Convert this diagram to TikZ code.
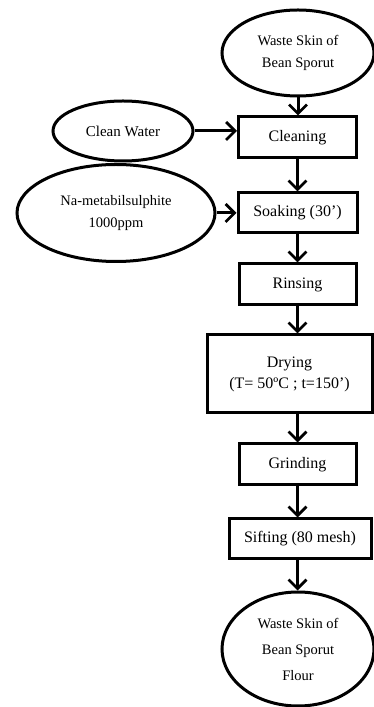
\documentclass[tikz,border=0pt]{standalone}
\usepackage{fontspec}
\setmainfont{Liberation Serif}
\usetikzlibrary{shapes.geometric,arrows.meta}
\begin{document}
\begin{tikzpicture}[x=1pt,y=1pt,
  box/.style={draw,line width=3pt,rectangle,inner sep=0pt,font=\fontsize{16}{20}\selectfont,align=center},
  oval/.style={draw,line width=3pt,ellipse,inner sep=0pt,align=center},
  flow/.style={line width=3pt,-{Straight Barb[length=9pt,width=18pt,line width=2.8pt]}}]
\useasboundingbox (0,0) rectangle (374,707);
% ellipses
\node[oval,minimum width=152,minimum height=86,font=\fontsize{14.5}{22}\selectfont] (top) at (298,654) {Waste Skin of\\Bean Sporut};
\node[oval,minimum width=140,minimum height=60,font=\fontsize{15}{18}\selectfont] (water) at (123,576) {Clean Water};
\node[oval,minimum width=198,minimum height=97,font=\fontsize{14.5}{22}\selectfont] (na) at (116,494) {Na-metabilsulphite\\1000ppm};
\node[oval,minimum width=152,minimum height=114,font=\fontsize{14.5}{26}\selectfont] (flour) at (298,58) {Waste Skin of\\Bean Sporut\\Flour};
% boxes
\node[box,minimum width=118,minimum height=41] (clean) at (297.5,569.5) {Cleaning};
\node[box,minimum width=119,minimum height=40] (soak) at (297.5,494) {Soaking (30’)};
\node[box,minimum width=117,minimum height=41] (rinse) at (297.5,422.5) {Rinsing};
\node[box,minimum width=165,minimum height=78,font=\fontsize{16}{21}\selectfont] (dry) at (289.5,333) {Drying\\(T= 50ºC ; t=150’)};
\node[box,minimum width=117,minimum height=41] (grind) at (297.5,242.5) {Grinding};
\node[box,minimum width=142,minimum height=40] (sift) at (300,168) {Sifting (80 mesh)};
% connectors
\draw[flow] (top.south) -- (top.south |- clean.north);
\draw[flow] (water.east) -- (water.east -| clean.west);
\draw[flow] (na.east) -- (na.east -| soak.west);
\draw[flow] (clean.south) -- (clean.south |- soak.north);
\draw[flow] (soak.south) -- (soak.south |- rinse.north);
\draw[flow] (rinse.south) -- (rinse.south |- dry.north);
\draw[flow] (rinse.south |- dry.south) -- (rinse.south |- grind.north);
\draw[flow] (grind.south) -- (grind.south |- sift.north);
\draw[flow] (grind.south |- sift.south) -- (grind.south |- flour.north);
\end{tikzpicture}
\end{document}
